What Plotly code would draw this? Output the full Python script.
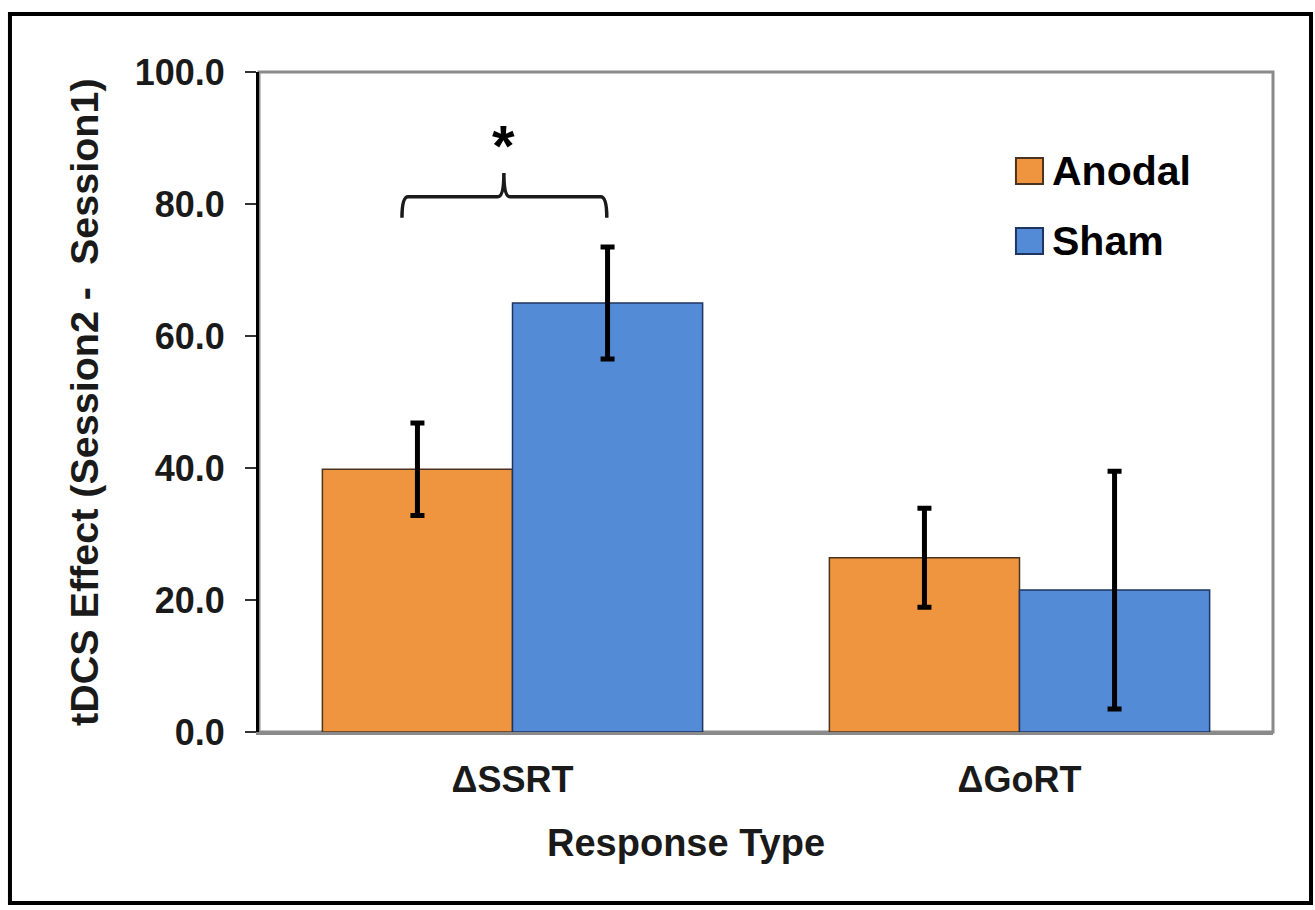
import plotly.graph_objects as go

# ---- data ----
categories = ["ΔSSRT", "ΔGoRT"]
series_names = ["Anodal", "Sham"]
anodal_values = [39.8, 26.4]
anodal_errors = [7.0, 7.5]
sham_values = [65.0, 21.5]
sham_errors = [8.5, 18.0]
y_ticks = [0, 20, 40, 60, 80, 100]

colors = {"Anodal": "#F0953F", "Sham": "#548BD6"}
outlines = {"Anodal": "#4a3320", "Sham": "#1f3560"}

FONT = "Arial, 'Liberation Sans', sans-serif"
x_pos = list(range(len(categories)))

fig = go.Figure()
for name, vals, errs in [("Anodal", anodal_values, anodal_errors),
                         ("Sham", sham_values, sham_errors)]:
    fig.add_trace(go.Bar(
        x=x_pos, y=vals, name=name,
        marker=dict(color=colors[name], line=dict(color=outlines[name], width=1.5)),
        error_y=dict(type="data", array=errs, visible=True,
                     color="black", thickness=5, width=7),
        showlegend=False,
    ))

# plot frame (gray) and outer black border
fig.add_shape(type="rect", xref="paper", yref="paper", x0=0, x1=1, y0=0, y1=1,
              line=dict(color="#8a8a8a", width=3), layer="below")
fig.add_shape(type="rect", xref="paper", yref="paper",
              x0=-0.2456, x1=1.0375, y0=-0.2591, y1=1.0879,
              line=dict(color="black", width=4))

# significance bracket
xl, xm, xr = -0.218, -0.017, 0.186
ye, yh, yt = 77.9, 81.1, 84.7
dx = 0.012
path = (f"M {xl},{ye} Q {xl},{yh} {xl+dx},{yh} L {xm-dx},{yh} "
        f"Q {xm},{yh} {xm},{yt} Q {xm},{yh} {xm+dx},{yh} "
        f"L {xr-dx},{yh} Q {xr},{yh} {xr},{ye}")
fig.add_shape(type="path", xref="x", yref="y", path=path,
              line=dict(color="#1a1a1a", width=3.5))
fig.add_annotation(x=xm, y=88.8, xref="x", yref="y", text="<b>*</b>",
                   showarrow=False, font=dict(size=58, color="black", family=FONT))

# manual legend
leg = [("Anodal", 0.85), ("Sham", 0.7439)]
for name, yc in leg:
    fig.add_shape(type="rect", xref="paper", yref="paper",
                  x0=0.7465, x1=0.7732, y0=yc - 0.0197, y1=yc + 0.0197,
                  fillcolor=colors[name], line=dict(color=outlines[name], width=2))
    fig.add_annotation(x=0.780, y=yc, xref="paper", yref="paper", text=f"<b>{name}</b>",
                       showarrow=False, xanchor="left", yanchor="middle",
                       font=dict(size=41, color="black", family=FONT))

# axis titles
fig.add_annotation(x=0.421, y=-0.168, xref="paper", yref="paper",
                   text="<b>Response Type</b>", showarrow=False,
                   xanchor="center", yanchor="middle",
                   font=dict(size=38, color="#1a1a1a", family=FONT))
fig.add_annotation(x=-0.1726, y=0.5, xref="paper", yref="paper",
                   text="<b>tDCS Effect (Session2 -\u00a0 Session1)</b>", showarrow=False,
                   textangle=-90, xanchor="center", yanchor="middle",
                   font=dict(size=39.5, color="#1a1a1a", family=FONT))

fig.update_layout(
    width=1315, height=910,
    margin=dict(l=259, r=42, t=72, b=178),
    paper_bgcolor="white", plot_bgcolor="white",
    barmode="group", bargap=0.25, bargroupgap=0,
    showlegend=False,
    font=dict(family=FONT, color="#1a1a1a"),
    xaxis=dict(range=[-0.5, 1.5], tickvals=x_pos,
               ticktext=[f"<b>{c}</b>" for c in categories],
               tickfont=dict(size=36, family=FONT, color="#1a1a1a"),
               showline=True, linecolor="#8a8a8a", linewidth=3,
               ticks="", showgrid=False, zeroline=False, ticklabelstandoff=14),
    yaxis=dict(range=[0, 100], tickvals=y_ticks, tickformat=".1f",
               tickfont=dict(size=36, family=FONT, color="#1a1a1a", weight="bold"),
               showline=True, linecolor="black", linewidth=3,
               ticks="outside", ticklen=11, tickwidth=2, tickcolor="#333",
               showgrid=False, zeroline=False, ticklabelstandoff=13),
)

fig.write_html("out.html")
